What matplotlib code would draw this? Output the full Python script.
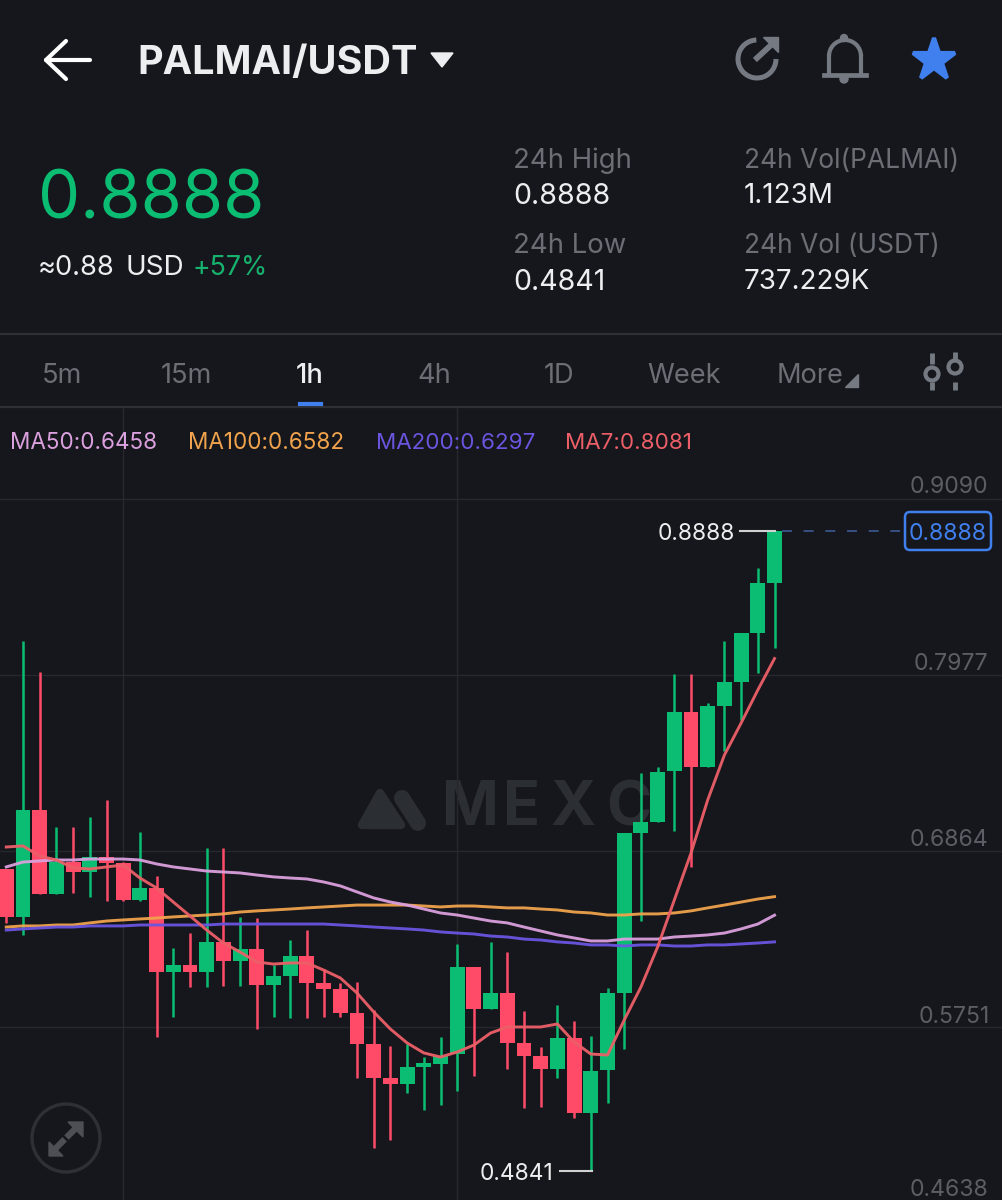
import numpy as np
import matplotlib
matplotlib.use('Agg')
import matplotlib.pyplot as plt
from matplotlib.patches import FancyBboxPatch, Circle, Polygon, Arc

# candles, oldest first
opens = [.6750, .6447, .7123, .6592, .6794, .6731, .6826, .6788, .6554, .6630,
         .6099, .6143, .6099, .6289, .6168, .6244, .6017, .6074, .6200, .6029,
         .5991, .5840, .5643, .5429, .5390, .5498, .5517, .5580, .6130, .5865,
         .5966, .5650, .5568, .5485, .5681, .5207, .5479, .5966, .6978, .7047,
         .7370, .7743, .7395, .7781, .7933, .8243, .8559]
highs = [.6750, .8192, .7996, .7016, .7016, .7079, .7187, .6794, .6984, .6706,
         .6250, .6345, .6883, .6883, .6447, .6440, .6143, .6301, .6364, .6118,
         .6029, .6036, .5858, .5631, .5643, .5561, .5688, .6276, .6130, .6289,
         .6225, .5852, .5625, .5890, .5789, .5694, .5998, .6978, .7357, .7395,
         .7983, .7983, .7800, .8192, .8243, .8654, .8888]
lows = [.6409, .6333, .6592, .6592, .6598, .6573, .6548, .6548, .6548, .5688,
        .5814, .6004, .6004, .6010, .6010, .5738, .5814, .5808, .5808, .5814,
        .5814, .5429, .4986, .5036, .5334, .5226, .5258, .5346, .5441, .5865,
        .5485, .5239, .5245, .5429, .5176, .4841, .5270, .5612, .6421, .7047,
        .6991, .6763, .7395, .7496, .7692, .7990, .8148]
closes = [.6447, .7123, .6592, .6794, .6731, .6826, .6788, .6554, .6630, .6099,
          .6143, .6099, .6289, .6168, .6244, .6017, .6074, .6200, .6029, .5991,
          .5840, .5643, .5429, .5390, .5498, .5523, .5568, .6130, .5865, .5966,
          .5650, .5568, .5485, .5681, .5207, .5473, .5966, .6978, .7047, .7364,
          .7743, .7395, .7781, .7933, .8243, .8559, .8888]

ma7 = [.6889, .6896, .6832, .6807, .6757, .6750, .6763, .6775, .6693, .6630,
       .6541, .6453, .6364, .6282, .6225, .6162, .6149, .6156, .6156, .6111,
       .6061, .5966, .5846, .5738, .5650, .5587, .5561, .5593, .5637, .5713,
       .5751, .5751, .5751, .5770, .5656, .5580, .5574, .5795, .6004, .6257,
       .6554, .6851, .7187, .7471, .7673, .7882, .8081]
ma50 = [.6763, .6794, .6801, .6807, .6807, .6813, .6813, .6813, .6807, .6782,
        .6763, .6750, .6737, .6731, .6725, .6712, .6700, .6693, .6687, .6668,
        .6643, .6605, .6567, .6541, .6522, .6497, .6472, .6459, .6440, .6421,
        .6409, .6383, .6358, .6333, .6314, .6295, .6295, .6307, .6307, .6307,
        .6320, .6326, .6333, .6345, .6371, .6402, .6458]
ma100 = [.6383, .6390, .6390, .6396, .6396, .6409, .6421, .6428, .6434, .6440,
         .6447, .6453, .6459, .6466, .6478, .6485, .6491, .6497, .6504, .6510,
         .6516, .6522, .6522, .6522, .6522, .6516, .6510, .6516, .6516, .6510,
         .6504, .6504, .6497, .6491, .6478, .6472, .6459, .6459, .6466, .6466,
         .6472, .6485, .6504, .6522, .6541, .6560, .6575]
ma200 = [.6364, .6371, .6377, .6383, .6383, .6390, .6390, .6390, .6396, .6396,
         .6396, .6396, .6396, .6402, .6402, .6402, .6402, .6402, .6402, .6402,
         .6396, .6390, .6383, .6377, .6371, .6364, .6352, .6345, .6339, .6326,
         .6320, .6307, .6301, .6289, .6282, .6270, .6270, .6263, .6270, .6270,
         .6263, .6263, .6270, .6270, .6276, .6282, .6289]

grid_prices = [.9090, .7977, .6864, .5751]
axis_labels = ['0.9090', '0.7977', '0.6864', '0.5751', '0.4638']
axis_label_y = [487, 664, 840, 1017, 1190]
axis_label_x = [988, 988, 988, 990, 988]
tabs = ['5m', '15m', '1h', '4h', '1D', 'Week', 'More']
tab_x = [62, 186, 310, 434, 559, 684, 810]
wm_letters = ['M', 'E', 'X', 'C']
wm_x = [442, 503, 550, 606]

BG = '#16171c'
GREEN = '#0bbd72'
RED = '#ff4b68'
GREY = '#6b6e75'
ICON = '#757981'
WM = '#2b2e33'
WHITE = '#eceef0'
BLUE = '#3f80ee'
plt.rcParams['font.family'] = ['Inter', 'DejaVu Sans']

fig = plt.figure(figsize=(10.02, 12), dpi=100, facecolor=BG)

# watermark sits under the candles
wm = fig.add_axes([0, 0, 1, 1], facecolor='none')
wm.set_xlim(0, 1002)
wm.set_ylim(1200, 0)
wm.axis('off')
wm.add_patch(Polygon([(362, 825), (380, 793), (401, 825)], fc=WM, ec=WM, lw=6, joinstyle='round'))
wm.plot([402, 418], [798, 823], color=WM, lw=11.5, solid_capstyle='round')
for letter, lx in zip(wm_letters, wm_x):
    wm.text(lx, 809, letter, color=WM, fontsize=44, fontweight='bold', va='center')

# chart part, price scale is 0.1113 per 176 px
ax = fig.add_axes([0, 0, 1, 792 / 1200], facecolor='none')
x = np.arange(len(opens))
ax.set_xlim(-0.377, 59.62)
ax.set_ylim(0.4657, 0.9665)
ax.set_xticks([7, 27])
ax.set_yticks(grid_prices)
ax.grid(color='#26282d', lw=1)
ax.set_axisbelow(True)
ax.tick_params(length=0, labelbottom=False, labelleft=False)
for s in ax.spines.values():
    s.set_visible(False)

o = np.array(opens)
c = np.array(closes)
colors = [GREEN if cl >= op else RED for op, cl in zip(o, c)]
ax.vlines(x, lows, highs, colors=colors, lw=1.8, zorder=2)
ax.bar(x, np.abs(c - o), bottom=np.minimum(o, c), width=0.89, color=colors, zorder=3)

ax.plot(x, ma100, color='#f0a34c', lw=2.1, alpha=0.95, zorder=4)
ax.plot(x, ma200, color='#6a55e0', lw=2.1, alpha=0.95, zorder=4)
ax.plot(x, ma50, color='#dba0de', lw=2.1, alpha=0.95, zorder=4)
ax.plot(x, ma7, color='#ec5f68', lw=2.1, alpha=0.95, zorder=5)

# everything else in screen pixels
ui = fig.add_axes([0, 0, 1, 1], facecolor='none')
ui.set_xlim(0, 1002)
ui.set_ylim(1200, 0)
ui.axis('off')

# header
ui.plot([46, 90], [60, 60], color='white', lw=3, solid_capstyle='round')
ui.plot([66, 46, 66], [41, 60, 79], color='white', lw=3, solid_capstyle='round', solid_joinstyle='round')
ui.text(137, 63, 'PALMAI/USDT', color=WHITE, fontsize=28.5, fontweight='bold', va='center')
ui.add_patch(Polygon([(431, 53), (453, 53), (442, 67)], color=WHITE))

# refresh, bell, star
ui.add_patch(Arc((757, 59), 38, 38, theta1=0, theta2=268, color=ICON, lw=3.6))
ui.plot([757, 770], [58, 46], color=ICON, lw=4.2)
ui.add_patch(Polygon([(763, 37), (778, 37), (778, 52)], color=ICON))
ui.add_patch(Arc((845, 56), 32, 32, theta1=180, theta2=360, color=ICON, lw=3))
ui.plot([829, 829], [56, 74], color=ICON, lw=3)
ui.plot([861, 861], [56, 74], color=ICON, lw=3)
ui.plot([824, 866], [75, 75], color=ICON, lw=3.4)
ui.add_patch(Circle((844, 38), 3.5, color=ICON))
ui.add_patch(Circle((844, 79), 4, color=ICON))
ui.plot([934], [60], marker='*', ms=32, color=BLUE, mec=BLUE, mew=3, mfc=BLUE)

ui.text(38, 201, '0.8888', color=GREEN, fontsize=48, va='center')
ui.text(38, 268, '≈0.88', color=WHITE, fontsize=19.6, va='center')
ui.text(126, 268, 'USD', color=WHITE, fontsize=20, va='center')
ui.text(193, 268, '+57%', color='#16b36f', fontsize=19.3, va='center')

ui.text(513, 161, '24h High', color=GREY, fontsize=19.8, va='center')
ui.text(513, 196, '0.8888', color=WHITE, fontsize=20.5, va='center')
ui.text(513, 246, '24h Low', color=GREY, fontsize=19.8, va='center')
ui.text(513, 282, '0.4841', color=WHITE, fontsize=20.5, va='center')
ui.text(744, 161, '24h Vol(PALMAI)', color=GREY, fontsize=19, va='center')
ui.text(744, 196, '1.123M', color=WHITE, fontsize=20, va='center')
ui.text(744, 246, '24h Vol (USDT)', color=GREY, fontsize=19, va='center')
ui.text(744, 282, '737.229K', color=WHITE, fontsize=20, va='center')

ui.plot([0, 1002], [334, 334], color='#2e3035', lw=1.6)
ui.plot([0, 1002], [407, 407], color='#2e3035', lw=1.6)

# tabs
for name, tx in zip(tabs, tab_x):
    ui.text(tx, 376, name, color=WHITE if name == '1h' else GREY, fontsize=19.6,
            ha='center', va='center', fontweight='medium' if name == '1h' else 'normal')
ui.add_patch(Polygon([(845, 387), (858, 387), (858, 374)], color=ICON))
ui.plot([300, 321], [404, 404], color=BLUE, lw=3)
ui.plot([932, 932], [353, 364], color=ICON, lw=3.5, solid_capstyle='butt')
ui.plot([932, 932], [382, 390], color=ICON, lw=3.5, solid_capstyle='butt')
ui.plot([955, 955], [352, 359], color=ICON, lw=3.5, solid_capstyle='butt')
ui.plot([955, 955], [382, 390], color=ICON, lw=3.5, solid_capstyle='butt')
ui.add_patch(Circle((932, 374), 6.5, fc='none', ec=ICON, lw=3))
ui.add_patch(Circle((955, 367), 6.5, fc='none', ec=ICON, lw=3))

# moving average legend
ui.text(10, 443, 'MA50:0.6458', color='#dba0de', fontsize=16.2, va='center')
ui.text(188, 443, 'MA100:0.6582', color='#f0a34c', fontsize=16.2, va='center')
ui.text(376, 443, 'MA200:0.6297', color='#6a55e0', fontsize=16.1, va='center')
ui.text(565, 443, 'MA7:0.8081', color='#ec5f68', fontsize=16.1, va='center')

# price axis and last price
for lab, ly, lx in zip(axis_labels, axis_label_y, axis_label_x):
    ui.text(lx, ly, lab, color='#5b5e64', fontsize=16.6, ha='right', va='center')
ui.text(735, 534, '0.8888', color=WHITE, fontsize=16.4, ha='right', va='center')
ui.plot([740, 775], [531, 531], color='#cfd1d3', lw=1.5)
ui.text(553, 1174, '0.4841', color=WHITE, fontsize=16.4, ha='right', va='center')
ui.plot([560, 592], [1171, 1171], color='#cfd1d3', lw=1.5)
ui.plot([782, 900], [531, 531], color='#3c5a94', lw=1.2, dashes=(6, 7))
ui.add_patch(FancyBboxPatch((905, 512), 86, 38, boxstyle='round,pad=0,rounding_size=5',
                            fc=BG, ec=BLUE, lw=1.8))
ui.text(948, 534, '0.8888', color=BLUE, fontsize=16.6, ha='center', va='center')

# expand button
ui.add_patch(Circle((66, 1138), 34, fc='none', ec='#2e3035', lw=2.4))
ui.plot([55, 77], [1149, 1127], color='#4d4f55', lw=4.5, dashes=(2.2, 0.4))
ui.add_patch(Polygon([(49, 1156), (49, 1142), (63, 1156)], color='#4d4f55'))
ui.add_patch(Polygon([(83, 1122), (83, 1137), (68, 1122)], color='#4d4f55'))

fig.savefig('out.png', dpi=100, facecolor=BG)
